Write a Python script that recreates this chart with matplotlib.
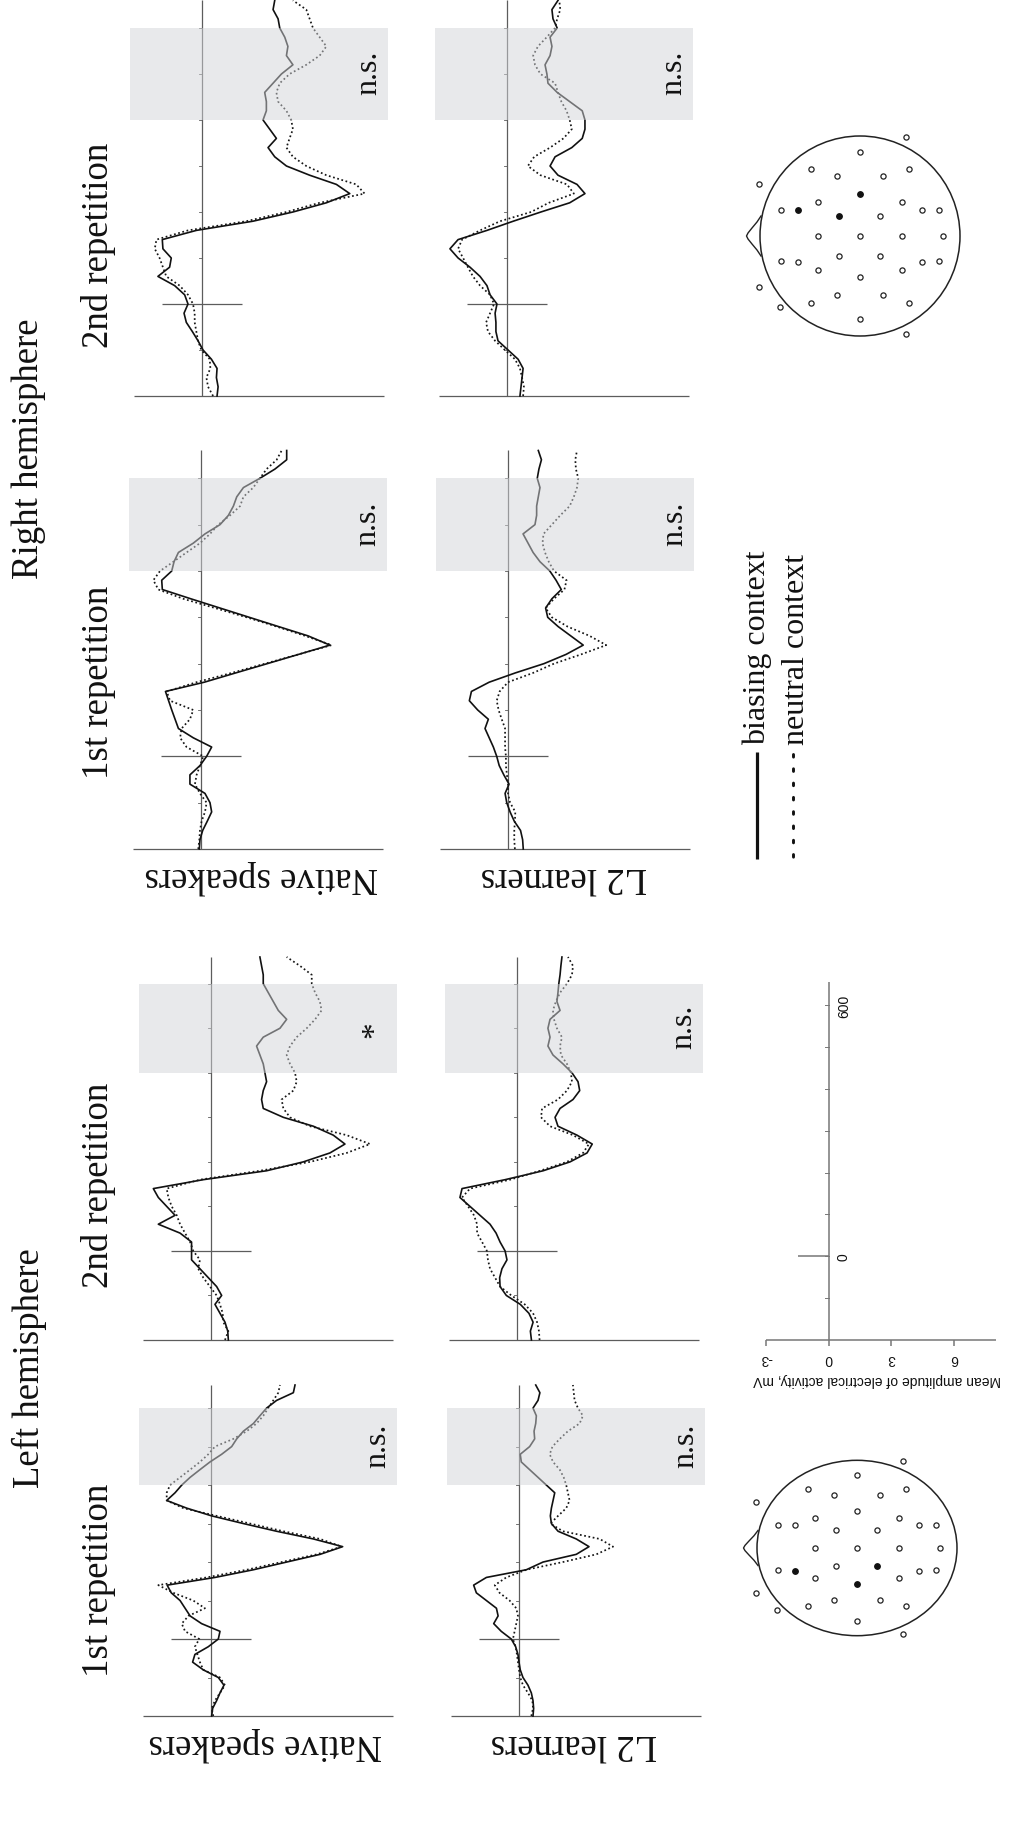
import numpy as np
import matplotlib
matplotlib.use("Agg")
import matplotlib.pyplot as plt
from matplotlib.patches import Circle, Rectangle

# ---------------------------------------------------------------------------
# ERP data: mean amplitude (microvolts) sampled every 20 ms from -200 to 660 ms
# ---------------------------------------------------------------------------
times = np.arange(-200, 661, 20)

# Right hemisphere, 2nd repetition
rh_rep2_native_biasing = [0.72, 0.77, 0.69, 0.72, 0.45, 0.05, -0.19, -0.46, -0.75, -0.86,
                          -0.67, -0.83, -1.31, -2.11, -1.55, -1.47, -1.87, -1.90, -0.27, 2.44,
                          4.35, 5.95, 7.07, 6.43, 5.15, 4.04, 3.48, 3.16, 3.56, 3.24,
                          2.92, 3.08, 3.08, 3.00, 3.40, 3.80, 4.35, 4.04, 4.11, 3.96,
                          3.72, 3.64, 3.40, 3.48]
rh_rep2_native_neutral = [0.53, 0.29, 0.21, 0.40, 0.37, -0.03, -0.19, -0.27, -0.35, -0.35,
                          -0.43, -0.67, -1.07, -1.71, -1.87, -2.03, -2.26, -2.18, -0.67, 2.12,
                          4.04, 5.63, 7.78, 7.38, 5.95, 4.99, 4.35, 4.04, 4.19, 4.35,
                          4.27, 4.04, 3.64, 3.56, 3.72, 4.19, 4.99, 5.63, 5.95, 5.63,
                          5.31, 5.15, 4.99, 4.35]
rh_rep2_l2_biasing = [0.62, 0.67, 0.72, 0.77, 0.53, 0.05, -0.43, -0.53, -0.53, -0.57,
                      -0.48, -0.81, -0.96, -1.29, -1.77, -2.34, -2.73, -2.34, -0.96, 0.30,
                      1.62, 3.00, 3.73, 3.35, 2.44, 2.06, 2.30, 3.10, 3.60, 3.73,
                      3.73, 3.60, 3.00, 2.40, 1.96, 1.91, 1.82, 2.06, 2.15, 2.06,
                      2.40, 2.20, 2.15, 2.44]
rh_rep2_l2_neutral = [0.77, 0.81, 0.72, 0.62, 0.38, -0.10, -0.57, -0.91, -1.00, -0.81,
                      -0.62, -0.81, -1.29, -1.63, -1.87, -2.10, -2.34, -2.15, -1.29, -0.33,
                      1.15, 2.00, 3.20, 2.87, 1.60, 1.00, 1.30, 2.06, 2.70, 3.10,
                      3.00, 2.85, 2.60, 2.44, 2.30, 1.60, 1.34, 1.25, 1.48, 1.90,
                      2.30, 2.40, 2.55, 2.50]

# Right hemisphere, 1st repetition
rh_rep1_native_biasing = [-0.08, -0.05, 0.08, 0.30, 0.51, 0.43, 0.19, -0.53, -0.53, -0.05,
                          0.27, 0.51, -0.37, -1.08, -1.24, -1.40, -1.55, -1.70, 0.16, 1.66,
                          3.17, 4.67, 6.17, 5.12, 3.71, 2.31, 0.91, -0.49, -1.85, -1.88,
                          -1.40, -1.29, -1.08, -0.37, 0.19, 0.91, 1.31, 1.55, 1.71, 2.03,
                          2.82, 3.54, 4.10, 4.10]
rh_rep1_native_neutral = [-0.13, -0.08, -0.05, 0.03, 0.19, 0.27, -0.05, -0.29, -0.21, -0.05,
                          0.11, -0.69, -1.00, -0.93, -0.53, -0.37, -1.48, -1.64, -0.21, 1.47,
                          3.06, 4.66, 6.25, 4.98, 3.62, 2.18, 0.67, -0.85, -2.04, -2.28,
                          -1.96, -1.32, -0.69, -0.05, 0.43, 0.83, 1.39, 1.87, 2.03, 2.50,
                          2.82, 3.14, 3.62, 3.86]
rh_rep1_l2_biasing = [0.73, 0.70, 0.60, 0.30, 0.10, -0.06, -0.14, 0.05, -0.20, -0.42,
                      -0.54, -0.70, -0.90, -1.10, -0.94, -1.45, -1.85, -1.75, -0.90, 0.35,
                      1.72, 2.78, 3.60, 3.00, 2.40, 1.90, 1.80, 2.10, 2.55, 2.30,
                      2.00, 1.53, 1.20, 0.96, 0.72, 1.29, 1.37, 1.37, 1.45, 1.53,
                      1.40, 1.48, 1.60, 1.45]
rh_rep1_l2_neutral = [0.33, 0.30, 0.30, 0.33, 0.35, 0.10, 0.00, 0.00, -0.05, -0.10,
                      -0.10, -0.14, -0.14, -0.14, -0.30, -0.45, -0.54, -0.40, 0.00, 1.20,
                      2.20, 3.50, 4.70, 3.90, 2.85, 2.10, 1.80, 2.20, 2.70, 2.80,
                      2.20, 1.95, 1.77, 1.65, 1.70, 2.10, 2.50, 2.95, 3.15, 3.30,
                      3.36, 3.25, 3.22, 3.30]

# Left hemisphere, 2nd repetition
lh_rep2_native_biasing = [0.83, 0.80, 0.67, 0.43, 0.19, 0.51, 0.27, -0.13, -0.53, -0.93,
                          -0.93, -0.93, -1.48, -2.52, -1.72, -2.12, -2.52, -2.76, -0.37, 2.66,
                          4.42, 5.69, 6.41, 5.85, 4.90, 3.46, 2.50, 2.42, 2.50, 2.66,
                          2.58, 2.50, 2.34, 2.18, 2.50, 3.30, 3.62, 3.22, 2.98, 2.74,
                          2.50, 2.50, 2.42, 2.34]
lh_rep2_native_neutral = [0.67, 0.83, 0.59, 0.56, 0.43, 0.27, -0.05, -0.37, -0.61, -0.53,
                          -0.85, -1.00, -1.24, -1.48, -1.64, -1.88, -2.04, -2.12, -0.53, 2.34,
                          4.74, 6.49, 7.61, 6.49, 4.74, 3.78, 3.46, 3.38, 3.94, 4.10,
                          4.02, 3.78, 3.62, 3.78, 4.10, 4.58, 4.98, 5.29, 5.21, 4.98,
                          4.82, 4.82, 4.26, 3.62]
lh_rep2_l2_biasing = [0.69, 0.64, 0.77, 0.57, 0.16, -0.51, -0.81, -0.83, -0.72, -0.48,
                      -0.57, -0.81, -1.00, -1.29, -1.77, -2.25, -2.73, -2.63, -0.57, 1.25,
                      2.54, 3.35, 3.60, 2.87, 1.96, 1.82, 2.06, 2.68, 3.00, 2.92,
                      2.63, 2.20, 1.72, 1.48, 1.58, 1.48, 1.58, 2.06, 1.91, 1.96,
                      2.00, 2.06, 2.10, 2.15]
lh_rep2_l2_neutral = [1.08, 1.05, 0.96, 0.77, 0.37, -0.27, -0.81, -1.05, -1.29, -1.39,
                      -1.44, -1.67, -1.91, -1.91, -2.06, -2.34, -2.63, -2.25, -0.33, 1.10,
                      2.39, 3.16, 3.44, 2.68, 1.58, 1.15, 1.20, 1.96, 2.39, 2.63,
                      2.58, 2.39, 2.10, 2.06, 2.15, 1.91, 1.77, 1.72, 1.86, 2.06,
                      2.39, 2.63, 2.68, 2.44]

# Left hemisphere, 1st repetition
lh_rep1_native_biasing = [0.03, 0.08, 0.27, 0.43, 0.62, 0.35, -0.37, -0.88, -0.77, -0.13,
                          0.35, 0.43, -0.45, -1.00, -1.24, -1.48, -1.90, -2.10, 0.19, 2.03,
                          3.62, 5.22, 6.30, 4.90, 3.14, 1.55, 0.03, -1.16, -2.12, -1.72,
                          -1.40, -1.00, -0.53, -0.05, 0.51, 0.99, 1.23, 1.55, 2.03, 2.34,
                          2.66, 3.14, 3.94, 4.02]
lh_rep1_native_neutral = [0.11, 0.03, 0.19, 0.43, 0.67, 0.43, -0.37, -0.53, -0.65, -0.77,
                          -0.56, -1.24, -1.40, -1.08, -0.29, -0.85, -1.80, -2.52, -0.21, 1.71,
                          3.38, 5.06, 6.25, 5.22, 3.46, 1.87, 0.27, -1.32, -2.12, -2.12,
                          -1.96, -1.48, -1.00, -0.53, -0.13, 0.19, 1.07, 1.71, 2.18, 2.50,
                          2.74, 2.98, 3.22, 3.30]
lh_rep1_l2_biasing = [0.67, 0.70, 0.67, 0.59, 0.43, 0.19, 0.06, 0.00, -0.05, -0.16,
                      -0.37, -0.85, -1.21, -1.00, -1.08, -1.56, -2.04, -2.17, -1.56, 0.35,
                      1.15, 2.74, 3.35, 2.74, 1.87, 1.55, 1.50, 1.55, 1.63, 1.71,
                      1.31, 0.91, 0.51, 0.11, 0.06, 0.51, 0.75, 0.72, 0.80, 0.83,
                      0.67, 0.91, 1.00, 0.80]
lh_rep1_l2_neutral = [0.59, 0.67, 0.64, 0.43, 0.19, 0.06, 0.00, -0.05, -0.10, -0.16,
                      -0.29, -0.21, -0.13, -0.05, -0.13, -0.45, -0.93, -1.16, -0.61, 0.35,
                      2.10, 3.70, 4.50, 3.86, 2.10, 1.50, 1.87, 2.26, 2.42, 2.34,
                      2.26, 2.14, 1.95, 1.63, 1.47, 1.60, 1.95, 2.34, 2.90, 3.06,
                      2.82, 2.66, 2.62, 2.58]

# Significance marks for the 400-600 ms window
rh_marks = {"rep2": ["n.s.", "n.s."], "rep1": ["n.s.", "n.s."]}
lh_marks = {"rep2": ["*", "n.s."], "rep1": ["n.s.", "n.s."]}

group_labels = ["Native speakers", "L2 learners"]
legend_labels = ["biasing context", "neutral context"]
scale_amp_ticks = [-3, 0, 3, 6]
scale_time_labels = [0, 600]

# Electrode montage (head radius = 1, nose towards -x, image-style y downwards)
elec_x = [-1.007, -0.79, -0.62, -0.42, -0.49, -0.233, 0.0, 0.23, 0.487, 0.457,
          0.417, 0.617, 0.793, 0.0, -0.207, 0.203, -0.42, 0.0, 0.417, 0.83,
          -0.207, 0.203, -0.79, -0.62, -0.42, 0.42, 0.617, 0.793, 0.0, -0.233,
          0.23, -0.49, 0.487, 0.0, -1.007, -0.8, 0.457]
elec_y = [-0.52, -0.26, -0.263, -0.343, -0.673, -0.6, -0.837, -0.6, -0.673, -0.987,
          -0.343, -0.263, -0.26, -0.417, -0.203, -0.203, 0.0, 0.0, 0.0, 0.0,
          0.2, 0.2, 0.253, 0.26, 0.337, 0.337, 0.26, 0.253, 0.413, 0.593,
          0.593, 0.667, 0.667, 0.83, 0.51, 0.71, 0.98]
rh_selected = [2, 13, 14]     # indices of the highlighted electrodes
lh_selected = [23, 21, 28]

# ---------------------------------------------------------------------------
# Figure layout (pixel based, 1015 x 1840)
# ---------------------------------------------------------------------------
W, H = 1015, 1840
fig = plt.figure(figsize=(W / 100, H / 100), dpi=100)
fig.patch.set_facecolor("white")

SERIF = ["Liberation Serif", "DejaVu Serif"]
SANS = ["Liberation Sans", "DejaVu Sans"]
AXIS_GREY = "#5c5c5c"
PX_PER_UV = 20.9
AMP_LO, AMP_HI = -3.45, 8.9
T_LO, T_HI = -200, 660


def px_axes(x0, y0, x1, y1, z=1):
    ax = fig.add_axes([x0 / W, 1 - y1 / H, (x1 - x0) / W, (y1 - y0) / H], zorder=z)
    ax.axis("off")
    return ax


canvas = px_axes(0, 0, W, H, z=0)
canvas.set_xlim(0, W)
canvas.set_ylim(H, 0)


def erp_panel(zero_x, top_y, bottom_y, biasing, neutral, mark):
    x0 = zero_x + AMP_LO * PX_PER_UV
    x1 = zero_x + AMP_HI * PX_PER_UV
    ax = px_axes(x0, top_y, x1, bottom_y)
    ax.set_xlim(AMP_LO, AMP_HI)
    ax.set_ylim(T_LO, T_HI)
    kw = dict(color=AXIS_GREY, lw=0.9, solid_capstyle="butt", clip_on=False)
    ax.plot([0, 0], [T_LO, T_HI], **kw)
    ax.plot([-3.25, 8.7], [T_LO, T_LO], **kw)
    ax.plot([-1.9, 1.9], [0, 0], **kw)
    for t in range(-100, 601, 100):
        ax.plot([-0.16, 0], [t, t], color=AXIS_GREY, lw=0.6, clip_on=False)
    ax.plot(biasing, times, color="#111111", lw=1.2, clip_on=False, zorder=3,
            solid_joinstyle="round")
    ax.plot(neutral, times, color="#151515", lw=1.25, ls=(0, (1, 1.5)),
            clip_on=False, zorder=3)
    ax.add_patch(Rectangle((AMP_LO, 400), AMP_HI - AMP_LO, 200, facecolor="#d3d5d9",
                           alpha=0.5, edgecolor="none", zorder=5))
    if mark == "*":
        ax.text(7.85, 500, mark, rotation=90, rotation_mode="anchor", ha="center",
                va="center", fontsize=24, family=SERIF, color="#111111", zorder=6)
    else:
        ax.text(8.33, 505, mark, rotation=90, rotation_mode="anchor", ha="center",
                va="baseline", fontsize=23, family=SERIF, color="#111111", zorder=6)
    return ax


# Right hemisphere block
erp_panel(202, 1.4, 397, rh_rep2_native_biasing, rh_rep2_native_neutral, rh_marks["rep2"][0])
erp_panel(507, 1.4, 397, rh_rep2_l2_biasing, rh_rep2_l2_neutral, rh_marks["rep2"][1])
erp_panel(201, 451.5, 850, rh_rep1_native_biasing, rh_rep1_native_neutral, rh_marks["rep1"][0])
erp_panel(508, 451.5, 850, rh_rep1_l2_biasing, rh_rep1_l2_neutral, rh_marks["rep1"][1])

# Left hemisphere block
erp_panel(211, 958, 1341, lh_rep2_native_biasing, lh_rep2_native_neutral, lh_marks["rep2"][0])
erp_panel(517, 958, 1341, lh_rep2_l2_biasing, lh_rep2_l2_neutral, lh_marks["rep2"][1])
erp_panel(211, 1386, 1717, lh_rep1_native_biasing, lh_rep1_native_neutral, lh_marks["rep1"][0])
erp_panel(519, 1386, 1717, lh_rep1_l2_biasing, lh_rep1_l2_neutral, lh_marks["rep1"][1])

# Titles and row / column labels
title_kw = dict(rotation=90, ha="center", va="center", fontsize=26.5, family=SERIF,
                color="#111111", rotation_mode="anchor")
canvas.text(29, 449, "Right hemisphere", **title_kw)
canvas.text(29, 1368, "Left hemisphere", **title_kw)
canvas.text(99, 245, "2nd repetition", **title_kw)
canvas.text(99, 682, "1st repetition", **title_kw)
canvas.text(99, 1185, "2nd repetition", **title_kw)
canvas.text(99, 1580, "1st repetition", **title_kw)

row_kw = dict(rotation=180, ha="center", va="center", fontsize=26.5, family=SERIF,
              color="#111111", rotation_mode="anchor")
canvas.text(261, 877, group_labels[0], **row_kw)
canvas.text(564, 877, group_labels[1], **row_kw)
canvas.text(265, 1744, group_labels[0], **row_kw)
canvas.text(574, 1744, group_labels[1], **row_kw)

# Legend
canvas.plot([757, 757], [753, 860], color="#111111", lw=2.3, solid_capstyle="butt")
canvas.plot([793, 793], [755, 860], color="#111111", lw=2.1, ls=(0, (0.9, 4)),
            dash_capstyle="round")
leg_kw = dict(rotation=90, rotation_mode="anchor", ha="left", va="center",
              fontsize=23, family=SERIF, color="#111111")
canvas.text(757, 745, legend_labels[0], **leg_kw)
canvas.text(797, 745, legend_labels[1], **leg_kw)

# Scale bar (amplitude in microvolts, time in ms)
sb = px_axes(766, 983, 996, 1341)
sb.set_xlim(-3, 8)
sb.set_ylim(-200, 655)
sb_kw = dict(color="#777777", lw=1.1, solid_capstyle="butt", clip_on=False)
sb.plot([0, 0], [-200, 655], **sb_kw)
sb.plot([-3, 8], [-200, -200], **sb_kw)
sb.plot([-1.45, 0], [0, 0], **sb_kw)
for t in range(-100, 601, 100):
    sb.plot([-0.16, 0], [t, t], color="#777777", lw=0.7, clip_on=False)
for a in scale_amp_ticks:
    sb.plot([a, a], [-200, -214], **sb_kw)
    sb.text(a, -243, f"{a}", rotation=180, ha="center", va="center", fontsize=10,
            family=SANS, color="#111111")
for t in scale_time_labels:
    sb.text(0.72, t, f"{t}", rotation=90, ha="center", va="center", fontsize=10,
            family=SANS, color="#111111")
canvas.text(877, 1380, "Mean amplitude of electrical activity, mV", rotation=180,
            ha="center", va="center", fontsize=10, family=SANS, color="#111111")


# Electrode maps
def head(cx, cy, half_w, half_h, selected):
    ax = px_axes(cx - half_w, cy - half_h, cx + half_w, cy + half_h)
    ax.set_xlim(-1.3, 1.3)
    ax.set_ylim(1.3, -1.3)
    ax.add_patch(Circle((0, 0), 1.0, fill=False, lw=1.1, ec="#222222"))
    ax.plot([-0.99, -1.03, -1.08, -1.12, -1.135, -1.12, -1.08, -1.03, -0.99],
            [-0.20, -0.14, -0.08, -0.03, 0.0, 0.03, 0.08, 0.14, 0.20],
            color="#222222", lw=1.0)
    ex = np.array(elec_x)
    ey = np.array(elec_y)
    mask = np.zeros(len(ex), dtype=bool)
    mask[selected] = True
    ax.scatter(ex[~mask], ey[~mask], s=14, facecolors="white", edgecolors="#222222",
               linewidths=0.9, zorder=3)
    ax.scatter(ex[mask], ey[mask], s=16, facecolors="#111111", edgecolors="#111111",
               linewidths=0.9, zorder=3)


head(860, 237, 130, 130, rh_selected)
head(857, 1549, 130, 114, lh_selected)

fig.savefig("out.png", dpi=100, facecolor="white")
